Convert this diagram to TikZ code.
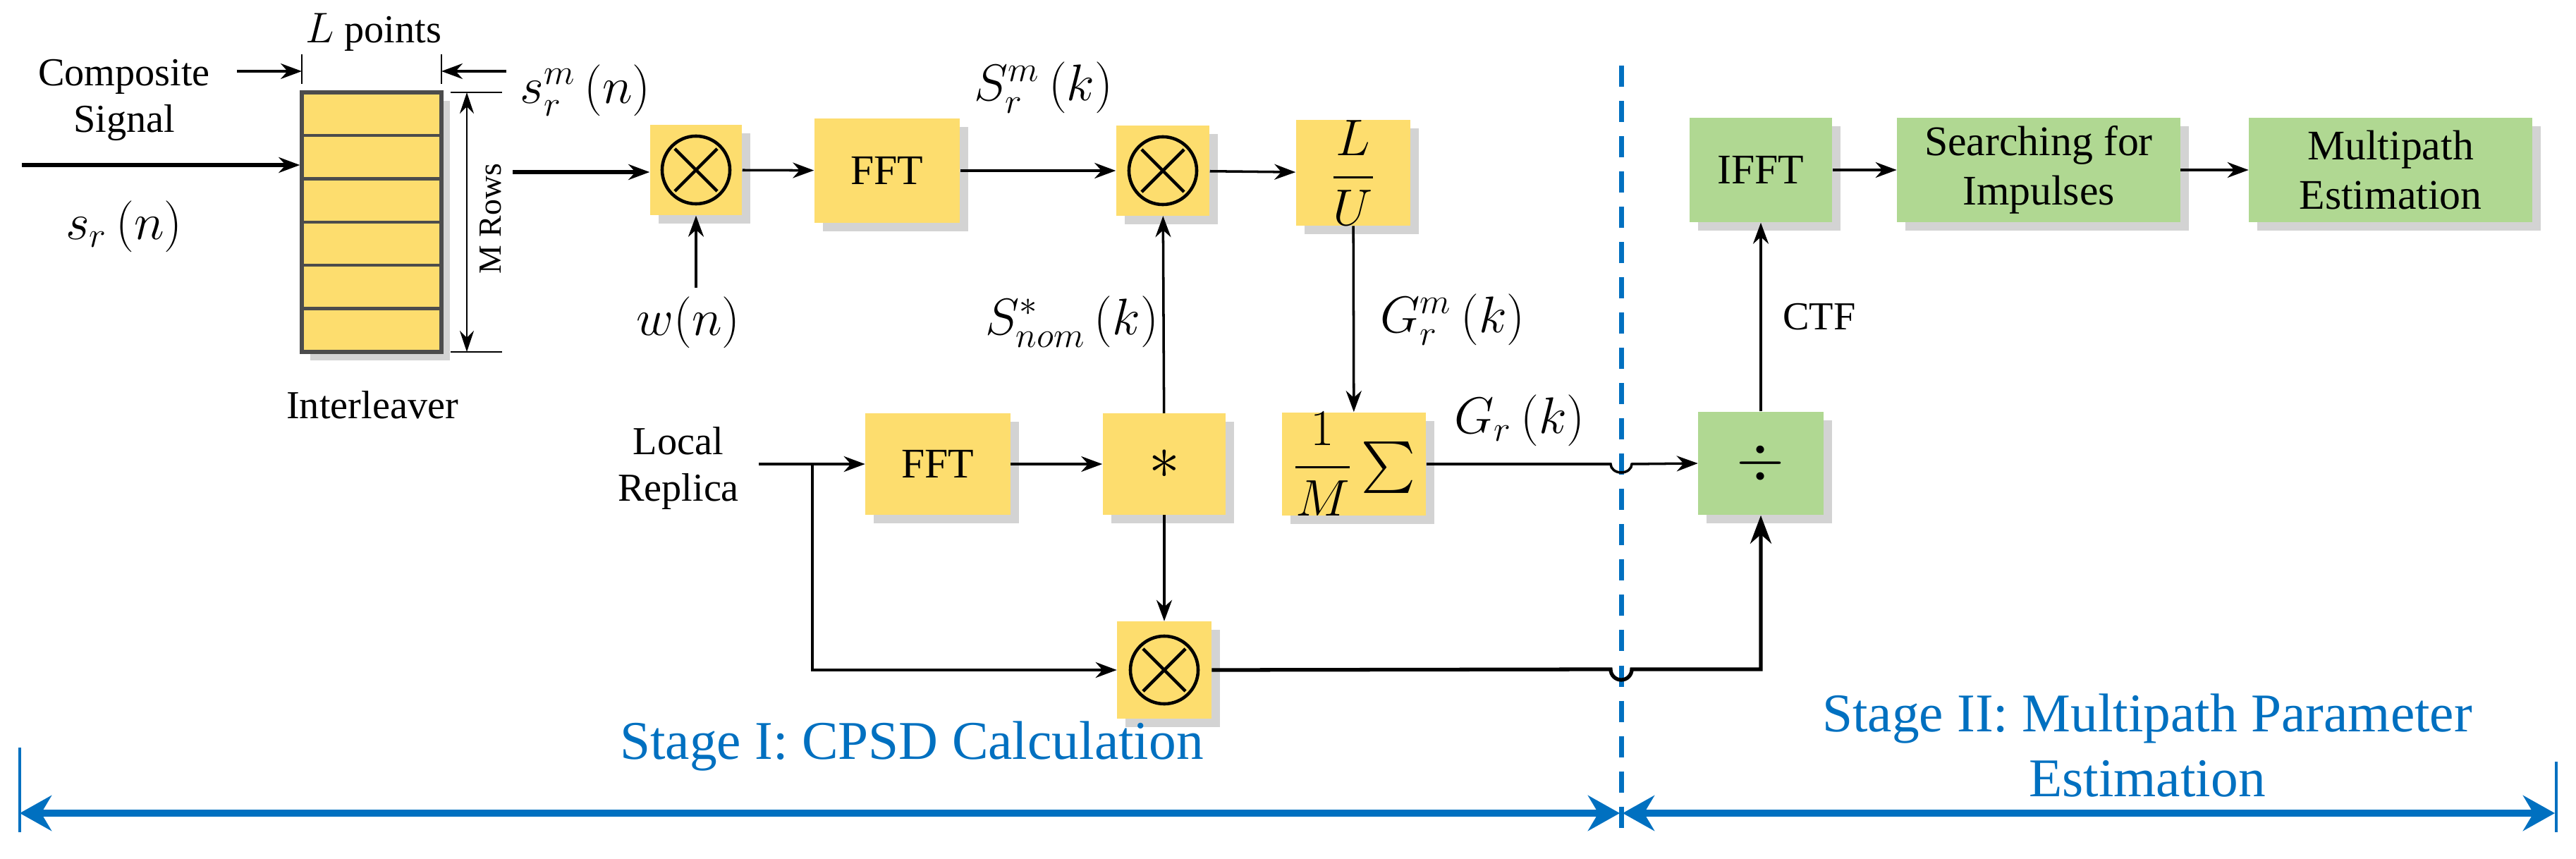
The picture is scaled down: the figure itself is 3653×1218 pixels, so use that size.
\documentclass[tikz,border=0pt]{standalone}
\usepackage{amsmath}
\usepackage{fontspec}
\setmainfont{Liberation Serif}
\usetikzlibrary{shadows,arrows.meta,calc}
\definecolor{yb}{RGB}{253,221,110}
\definecolor{gb}{RGB}{176,216,146}
\definecolor{bl}{RGB}{0,112,192}
\begin{document}
\begin{tikzpicture}[x=0.01cm,y=-0.01cm,
  box/.style={draw=none,inner sep=0pt,drop shadow={shadow xshift=0.12cm,shadow yshift=-0.12cm,opacity=0.35},font=\fontsize{17}{20}\selectfont,align=center},
  yb/.style={box,fill=yb},
  gb/.style={box,fill=gb},
  ar/.style={-{Stealth[length=0.3cm,width=0.22cm]},line width=1pt},
  lab/.style={font=\fontsize{20}{24}\selectfont},
  txt/.style={font=\fontsize{16}{19}\selectfont,align=center},
  stg/.style={font=\fontsize{22}{26}\selectfont,text=bl,align=center}]
\useasboundingbox (0,0) rectangle (3653,1218);
% interleaver
\node[yb,draw=black!70,line width=1.5pt,minimum width=1.98cm,minimum height=3.68cm] (il) at (527,315) {};
\foreach \i in {1,...,5}{\draw[black!70,line width=1.2pt] (428,131+61.3*\i) -- (626,131+61.3*\i);}
\node[txt] (lp) at (530,46) {$L$ points};
\coordinate (lt) at (428,101); \coordinate (rt) at (626,101);
\draw[line width=0.8pt] (428,77) -- (428,119) (626,77) -- (626,119);
\coordinate (la) at (336,101); \coordinate (ra) at (718,101);
\draw[ar] (la) -- (lt); \draw[ar] (ra) -- (rt);
\draw[line width=0.8pt] (639,131) -- (712,131) (639,499) -- (712,499);
\coordinate (mt) at (662,131); \coordinate (mb) at (662,499);
\draw[{Stealth[length=0.3cm,width=0.2cm]}-{Stealth[length=0.3cm,width=0.2cm]},line width=0.8pt] (mt) -- (mb);
\node[rotate=90,font=\fontsize{13}{15}\selectfont] (mr) at (696,310) {M Rows};
\node[txt] (il2) at (528,574) {Interleaver};
\node[txt,align=center] (cs) at (176,142) {Composite\\Signal};
\coordinate (in) at (31,234);
\draw[ar,line width=1.5pt] (in) -- (in -| il.west);
\node[lab] (srn) at (176,321) {$s_r\left(n\right)$};
\node[lab] (srmn) at (830,128) {$s_r^m\left(n\right)$};
% top row
\node[yb,minimum width=1.3cm,minimum height=1.28cm] (m1) at (987,241) {};
\node[yb,minimum width=2.06cm,minimum height=1.47cm] (f1) at (1258,242) {FFT};
\node[yb,minimum width=1.32cm,minimum height=1.27cm] (m2) at (1649,242) {};
\node[yb,minimum width=1.62cm,minimum height=1.48cm,font=\fontsize{20}{24}\selectfont] (lu) at (1919,245) {$\dfrac{L}{U}$};
\foreach \m in {m1,m2}{
  \draw[line width=1.3pt] (\m) circle (0.48cm);
  \draw[line width=1.3pt] ($(\m)+(-0.3cm,-0.3cm)$) -- ($(\m)+(0.3cm,0.3cm)$) ($(\m)+(-0.3cm,0.3cm)$) -- ($(\m)+(0.3cm,-0.3cm)$);}
\coordinate (ilo) at (727,244);
\draw[ar,line width=1.5pt] (ilo) -- (m1.west |- ilo);
\draw[ar] (m1) -- (f1);
\draw[ar,line width=1.3pt] (f1) -- (m2);
\draw[ar] (m2) -- (lu);
\node[lab] (wn) at (976,457) {$w(n)$};
\coordinate (wa) at (987,408);
\draw[ar] (wa) -- (m1.south);
\node[lab] (srmk) at (1480,124) {$S_r^m\left(k\right)$};
% middle row
\node[yb,minimum width=2.05cm,minimum height=1.43cm] (f2) at (1330,658) {FFT};
\node[yb,minimum width=1.74cm,minimum height=1.43cm,font=\fontsize{34}{34}\selectfont] (st) at (1651,658) {$\ast$};
\node[yb,minimum width=2.04cm,minimum height=1.43cm,font=\fontsize{20}{24}\selectfont] (sm) at (1920,658) {$\dfrac{1}{M}\sum$};
\node[yb,minimum width=1.33cm,minimum height=1.37cm] (m3) at (1651,950) {};
\draw[line width=1.3pt] (m3) circle (0.48cm);
\draw[line width=1.3pt] ($(m3)+(-0.3cm,-0.3cm)$) -- ($(m3)+(0.3cm,0.3cm)$) ($(m3)+(-0.3cm,0.3cm)$) -- ($(m3)+(0.3cm,-0.3cm)$);
\node[txt,align=center] (lr) at (962,664) {Local\\Replica};
\coordinate (lrs) at (1076,658); \coordinate (br) at (1152,658);
\draw[ar,line width=1.3pt] (lrs) -- (f2);
\draw[ar,line width=1.3pt] (br) |- (m3);
\draw[ar] (f2) -- (st);
\draw[ar] (st) -- (m2);
\draw[ar] (st) -- (m3);
\draw[ar] (lu) -- (sm);
\node[lab] (snom) at (1520,456) {$S_{nom}^{*}\left(k\right)$};
\node[lab] (grm) at (2060,453) {$G_r^m\left(k\right)$};
\node[lab] (gr) at (2155,596) {$G_r\left(k\right)$};
% stage II
\node[gb,minimum width=2.02cm,minimum height=1.48cm] (ifft) at (2497,241) {IFFT};
\node[gb,minimum width=4.01cm,minimum height=1.48cm] (sfi) at (2891,241) {Searching for\\Impulses};
\node[gb,minimum width=4.01cm,minimum height=1.48cm] (me) at (3390,241) {Multipath\\Estimation};
\node[gb,minimum width=1.77cm,minimum height=1.46cm,font=\fontsize{30}{30}\selectfont] (dv) at (2497,657) {$\div$};
\draw[ar] (ifft) -- (sfi);
\draw[ar] (sfi) -- (me);
\draw[ar] (dv) -- (ifft);
\node[txt] (ctf) at (2580,449) {CTF};
% divider
\coordinate (dt) at (2299,93); \coordinate (db) at (2299,1185);
\draw[bl,line width=2pt,dash pattern=on 0.3cm off 0.2cm] (dt) -- (db);
\draw[ar] (sm.east) -- (2284,658) arc (180:0:15 and 12) -- (dv.west);
\draw[ar,line width=1.5pt,-{Stealth[length=0.4cm,width=0.3cm]}] (m3.east) -- (2284,949) arc (180:0:15 and 15) -- (2497,949) -- (dv.south);
% bottom
\coordinate (b1) at (28,1153); \coordinate (b2) at (2297,1153); \coordinate (b3) at (2301,1153); \coordinate (b4) at (3623,1153);
\draw[bl,line width=1.2pt] (28,1060) -- (28,1180) (3625,1080) -- (3625,1180);
\draw[bl,line width=3pt,{Stealth[length=0.45cm,width=0.5cm]}-{Stealth[length=0.45cm,width=0.5cm]}] (b1) -- (b2);
\draw[bl,line width=3pt,{Stealth[length=0.45cm,width=0.5cm]}-{Stealth[length=0.45cm,width=0.5cm]}] (b3) -- (b4);
\node[stg] (s1) at (1293,1058) {Stage I: CPSD Calculation};
\node[stg] (s2) at (3045,1057) {Stage II: Multipath Parameter\\Estimation};
\end{tikzpicture}
\end{document}
